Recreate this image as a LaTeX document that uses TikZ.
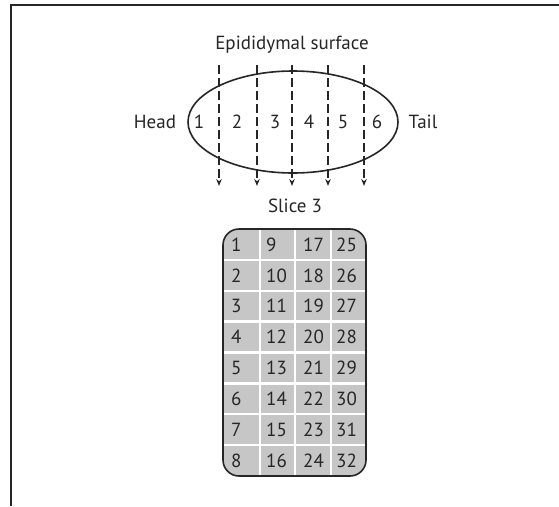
\documentclass[tikz,border=0pt]{standalone}
\usepackage{fontspec}
\setmainfont{PT Sans}
\usetikzlibrary{arrows.meta,shapes.geometric}
\definecolor{ink}{HTML}{262626}
\definecolor{cellgray}{HTML}{C6C6C6}
\begin{document}
\begin{tikzpicture}[x=1pt,y=-1pt,
  lbl/.style={text=ink,font=\fontsize{19}{21}\selectfont,inner sep=0pt},
  num/.style={lbl,anchor=west},
  cut/.style={draw=ink,line width=1.3pt,dash pattern=on 9pt off 4pt,-{Stealth[length=7pt,width=5.5pt]}},
  frame/.style={draw=ink,line width=1.8pt}]
\useasboundingbox (0,0) rectangle (559,506);
\fill[white] (0,0) rectangle (559,506);
% partial frame
\coordinate (fa) at (559,5);
\coordinate (fb) at (11,5);
\coordinate (fc) at (11,506);
\draw[frame] (fa) -- (fb) -- (fc);
% title
\node[lbl] (title) at (292,45) {Epididymal surface};
% ellipse
\node[draw=ink,line width=1.6pt,ellipse,minimum width=210pt,minimum height=102pt,inner sep=0pt] (epi) at (293,122) {};
\node[lbl] (head) at (155,122) {Head};
\node[lbl] (tail) at (423,122) {Tail};
\foreach \i/\x in {1/199,2/237,3/275,4/309,5/343,6/377}
  \node[lbl] (s\i) at (\x,122) {\i};
% cutting lines
\foreach \i/\x in {1/219,2/257,3/292,4/328,5/364}{
  \coordinate (ct\i) at (\x,65);
  \coordinate (cb\i) at (\x,186);
  \draw[cut] (ct\i) -- (cb\i);
}
\node[lbl] (slice) at (295,206) {Slice 3};
% grid
\begin{scope}
\clip[rounded corners=16pt] (223,229) rectangle (366,476);
\fill[cellgray] (223,229) rectangle (366,476);
\foreach \x in {260,295,331}
  \draw[white,line width=2.4pt] (\x,229) -- (\x,476);
\foreach \k in {1,...,7}
  \draw[white,line width=2.4pt] (223,229+30.875*\k) -- (366,229+30.875*\k);
\end{scope}
\draw[frame,line width=1.6pt,rounded corners=16pt] (223,229) rectangle (366,476);
\foreach \c/\x in {0/231,1/266,2/303,3/336}
  \foreach \r in {1,...,8}{
    \pgfmathtruncatemacro{\n}{\c*8+\r}
    \node[num] (c\n) at (\x,229+30.875*\r-15.4) {\n};
  }
\end{tikzpicture}
\end{document}
